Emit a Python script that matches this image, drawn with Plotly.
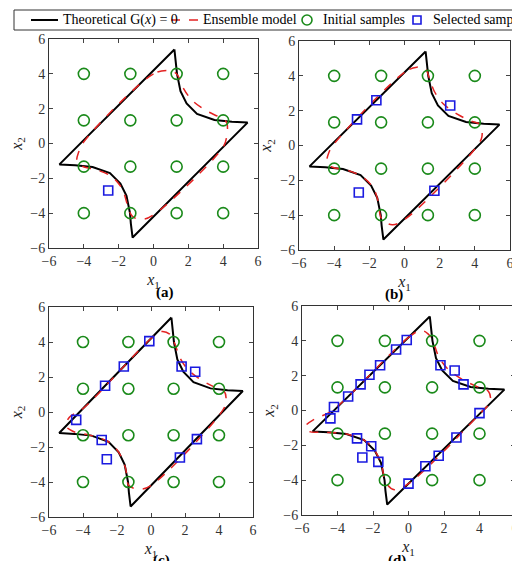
import plotly.graph_objects as go

# Theoretical limit state G(x)=0 (closed outline)
theory_x1 = [1.2, -5.4, -4.5, -3.5, -2.5, -1.9, -1.55, -1.35, -1.3, -1.2, 5.4, 4.5, 3.5, 2.5, 1.9, 1.55, 1.35, 1.3, 1.2]
theory_x2 = [5.4, -1.2, -1.25, -1.35, -1.7, -2.3, -3.0, -4.0, -4.6, -5.4, 1.2, 1.25, 1.35, 1.7, 2.3, 3.0, 4.0, 4.6, 5.4]

# Ensemble model contours per panel
ens_a_x1 = [0.8, 0.0, -4.0, -4.3, -4.4, -4.1, -3.3, -2.4, -1.8, -1.5, -1.2, -0.6, 0.0, 4.0, 4.2, 4.2, 3.8, 3.0, 2.2, 1.7, 1.4, 1.1, 0.8]
ens_a_x2 = [4.2, 4.0, 0.1, -0.5, -1.0, -1.3, -1.5, -1.9, -2.6, -3.5, -4.2, -4.35, -4.1, -0.2, 0.4, 1.2, 1.5, 1.9, 2.5, 3.2, 3.9, 4.15, 4.2]
ens_b_x1 = [0.7, 0.0, -4.0, -4.3, -4.4, -4.1, -3.3, -2.4, -1.8, -1.5, -1.3, -0.7, 0.0, 4.0, 4.4, 4.3, 3.8, 3.0, 2.2, 1.7, 1.4, 1.2, 0.7]
ens_b_x2 = [4.5, 4.2, 0.1, -0.4, -0.9, -1.25, -1.4, -1.8, -2.4, -3.2, -4.2, -4.55, -4.25, -0.2, 0.5, 1.2, 1.4, 1.8, 2.4, 3.1, 3.9, 4.4, 4.5]
ens_c_x1 = [0.6, 0.0, -4.0, -4.8, -5.0, -4.6, -3.5, -2.5, -1.9, -1.5, -1.3, -0.6, 0.0, 4.0, 4.4, 4.3, 3.8, 3.0, 2.2, 1.7, 1.4, 1.1, 0.6]
ens_c_x2 = [4.6, 4.2, 0.2, -0.3, -0.8, -1.1, -1.35, -1.7, -2.3, -3.2, -4.2, -4.4, -4.2, -0.2, 0.5, 1.2, 1.4, 1.8, 2.4, 3.1, 3.9, 4.45, 4.6]
ens_d_x1 = [0.7, 0.0, -4.3, -5.3, -5.8, -5.6, -4.8, -3.5, -2.5, -1.9, -1.5, -1.3, -0.8, 0.0, 4.0, 4.6, 4.5, 3.8, 3.0, 2.2, 1.7, 1.4, 1.1, 0.7]
ens_d_x2 = [4.6, 4.2, 0.0, -0.5, -0.9, -1.2, -1.25, -1.35, -1.7, -2.3, -3.2, -4.1, -4.55, -4.2, -0.2, 0.5, 1.1, 1.4, 1.8, 2.4, 3.1, 3.9, 4.4, 4.6]

# Initial samples (4x4 grid)
grid_vals = [-4.0, -1.33, 1.33, 4.0]
init_x1 = [a for a in grid_vals for b in grid_vals]
init_x2 = [b for a in grid_vals for b in grid_vals]

# Selected samples per panel
sel_a_x1 = [-2.6]
sel_a_x2 = [-2.7]
sel_b_x1 = [-2.6, -2.7, -1.6, 2.6, 1.7]
sel_b_x2 = [-2.7, 1.5, 2.6, 2.3, -2.6]
sel_c_x1 = sel_b_x1 + [-0.1, 1.8, -4.4, -2.9, 2.7]
sel_c_x2 = sel_b_x2 + [4.05, 2.6, -0.45, -1.6, -1.55]
sel_d_x1 = sel_c_x1 + [-4.2, -3.4, -2.2, -0.7, 3.1, 4.0, 0.95, 0.0, -1.7, -2.1]
sel_d_x2 = sel_c_x2 + [0.2, 0.8, 2.05, 3.5, 1.5, -0.15, -3.2, -4.2, -2.95, -2.05]

legend_labels = ["Theoretical G(<i>x</i>) = 0", "Ensemble model", "Initial samples", "Selected samples"]

W, H = 520, 561
def px(x): return x / W
def py(y): return 1 - y / H

panels = [
    ("(a)", ens_a_x1, ens_a_x2, sel_a_x1, sel_a_x2, [px(41), px(250)], [py(240), py(31)], py(284)),
    ("(b)", ens_b_x1, ens_b_x2, sel_b_x1, sel_b_x2, [px(291), px(502)], [py(242), py(33)], py(286)),
    ("(c)", ens_c_x1, ens_c_x2, sel_c_x1, sel_c_x2, [px(41), px(245)], [py(509), py(299)], py(552)),
    ("(d)", ens_d_x1, ens_d_x2, sel_d_x1, sel_d_x2, [px(294), px(507)], [py(507), py(298)], py(552)),
]

serif = "Liberation Serif"
fig = go.Figure()
layout = dict(width=W, height=H, margin=dict(l=0, r=0, t=0, b=0),
              plot_bgcolor="white", paper_bgcolor="white", showlegend=False,
              font=dict(family=serif, size=13, color="#222"))
ann, shapes = [], []
for i, (lab, ex, ey, sx, sy, dx, dy, ly) in enumerate(panels):
    n = "" if i == 0 else str(i + 1)
    xa, ya = "x" + n, "y" + n
    fig.add_trace(go.Scatter(x=theory_x1, y=theory_x2, mode="lines", xaxis=xa, yaxis=ya,
                             line=dict(color="black", width=2), name="Theoretical"))
    fig.add_trace(go.Scatter(x=ex, y=ey, mode="lines", xaxis=xa, yaxis=ya, line_shape="spline",
                             line=dict(color="#e32222", width=1.5, dash="dash"), name="Ensemble model"))
    fig.add_trace(go.Scatter(x=init_x1, y=init_x2, mode="markers", xaxis=xa, yaxis=ya,
                             marker=dict(symbol="circle-open", size=11, color="#1a8a1a", line=dict(width=1.6)),
                             name="Initial samples"))
    fig.add_trace(go.Scatter(x=sx, y=sy, mode="markers", xaxis=xa, yaxis=ya,
                             marker=dict(symbol="square-open", size=9, color="#1a1ae0", line=dict(width=1.6)),
                             name="Selected samples"))
    ax = dict(range=[-6, 6], tickvals=[-6, -4, -2, 0, 2, 4, 6], showgrid=False, zeroline=False,
              showline=True, linecolor="#333", mirror="allticks", ticks="inside", ticklen=4,
              automargin=False, tickfont=dict(family=serif, size=14, color="#333"))
    layout["xaxis" + n] = dict(ax, domain=dx, anchor=ya,
                               title=dict(text="<i>x</i><sub>1</sub>", standoff=6,
                                          font=dict(family=serif, size=16)))
    layout["yaxis" + n] = dict(ax, domain=dy, anchor=xa,
                               title=dict(text="<i>x</i><sub>2</sub>", standoff=4,
                                          font=dict(family=serif, size=16)))
    ann.append(dict(text="<b>" + lab + "</b>", x=(dx[0] + dx[1]) / 2, y=ly,
                    xref="paper", yref="paper", showarrow=False, yanchor="middle",
                    font=dict(family=serif, size=15, color="black")))

# Manual single-row legend
ly_leg = py(12)
shapes.append(dict(type="rect", xref="paper", yref="paper", x0=px(6), x1=px(515), y0=py(22), y1=py(2),
                   line=dict(color="#333", width=1), fillcolor="white", layer="above"))
shapes.append(dict(type="line", xref="paper", yref="paper", x0=px(23), x1=px(50), y0=ly_leg, y1=ly_leg,
                   line=dict(color="black", width=2)))
shapes.append(dict(type="line", xref="paper", yref="paper", x0=px(163), x1=px(190), y0=ly_leg, y1=ly_leg,
                   line=dict(color="#e32222", width=1.5, dash="dash")))
shapes.append(dict(type="circle", xref="paper", yref="paper", x0=px(294), x1=px(304), y0=py(17), y1=py(7),
                   line=dict(color="#1a8a1a", width=1.6)))
shapes.append(dict(type="rect", xref="paper", yref="paper", x0=px(405), x1=px(413), y0=py(16), y1=py(8),
                   line=dict(color="#1a1ae0", width=1.6)))
for txt, xx in zip(legend_labels, [53, 193, 313, 423]):
    ann.append(dict(text=txt, x=px(xx), y=ly_leg, xref="paper", yref="paper", showarrow=False,
                    xanchor="left", yanchor="middle", font=dict(family=serif, size=14, color="black")))
layout["annotations"] = ann
layout["shapes"] = shapes
fig.update_layout(**layout)
fig.write_html("out.html")
